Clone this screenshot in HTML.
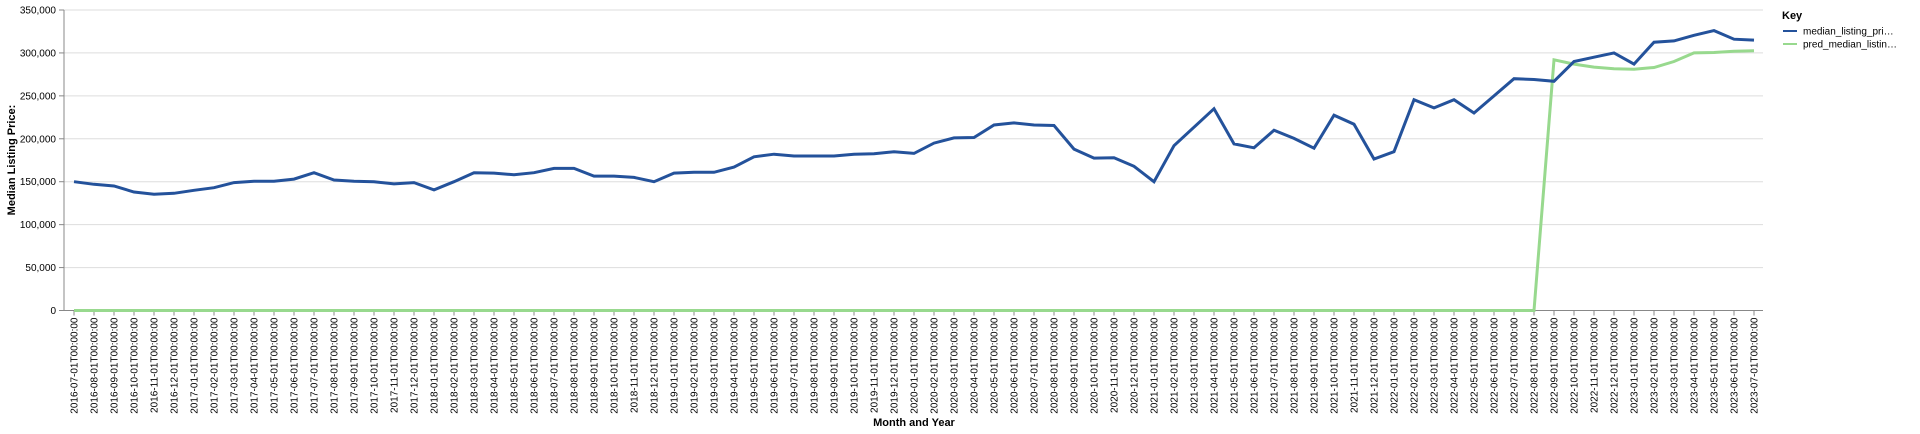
<!DOCTYPE html>
<html><head><meta charset="utf-8"><style>
html,body{margin:0;padding:0;background:#fff;width:1920px;height:434px;overflow:hidden}
svg text{font-family:"Liberation Sans",sans-serif}
</style></head><body>
<svg id="chart" width="1920" height="434" xmlns="http://www.w3.org/2000/svg">
<g id="grid"></g>
<g id="yaxis"></g>
<g id="xaxis"></g>
<g id="marks"></g>
<text transform="translate(15,160) rotate(-90)" text-anchor="middle" font-size="11" font-weight="bold" fill="#000">Median Listing Price:</text>
<text x="914" y="426" text-anchor="middle" font-size="11" font-weight="bold" fill="#000">Month and Year</text>
<g>
<text x="1782" y="19" font-size="11" font-weight="bold" fill="#000">Key</text>
<g>
<line x1="1783" y1="31" x2="1797" y2="31" stroke="#24529b" stroke-width="2"/>
<text x="1803" y="34.5" font-size="10" fill="#000">median_listing_pri…</text></g>
<g>
<line x1="1783" y1="44" x2="1797" y2="44" stroke="#98d98e" stroke-width="2"/>
<text x="1803" y="47.5" font-size="10" fill="#000">pred_median_listin…</text></g>
</g>
</svg>
<script>
const months = [];
for (let y = 2016; y <= 2023; y++) for (let m = 1; m <= 12; m++) {
  if ((y === 2016 && m < 7) || (y === 2023 && m > 7)) continue;
  months.push(y + "-" + String(m).padStart(2, "0") + "-01T00:00:00");
}
const medianValues = [150000,147000,145000,138000,135500,136500,140000,143000,149000,150500,150500,153000,
160500,152000,150500,150000,147500,149000,140500,150000,160500,160000,158000,160500,
165500,165500,156500,156500,155000,150000,160000,161000,161000,167000,179000,182000,
180000,180000,180000,182000,182500,185000,183000,195000,201000,201500,216000,218500,
216000,215500,188000,177500,178000,168000,150000,192000,213500,235000,194000,189500,
210000,200500,189000,227500,217000,176500,185000,245500,236000,245500,230000,250000,
270000,269000,267000,290000,295000,300000,287000,312500,314000,320500,326000,316000,315000];
const predValues = [0,0,0,0,0,0,0,0,0,0,0,0,0,0,0,0,0,0,0,0,0,0,0,0,0,0,0,0,0,0,0,0,0,0,0,0,
0,0,0,0,0,0,0,0,0,0,0,0,0,0,0,0,0,0,0,0,0,0,0,0,0,0,0,0,0,0,0,0,0,0,0,0,0,0,
292000,287000,283500,281500,281000,283000,290000,300000,300500,302000,302500];
const yTicks = [0,50000,100000,150000,200000,250000,300000,350000];

const NS = "http://www.w3.org/2000/svg";
const X0 = 74, STEP = (1754 - 74) / (months.length - 1);
const xs = i => X0 + i * STEP;
const Y0 = 310.5, Y1 = 10, YMAX = 350000;
const ys = v => Y0 - v / YMAX * (Y0 - Y1);
function el(t, a, p) { const e = document.createElementNS(NS, t); for (const k in a) e.setAttribute(k, a[k]); p.appendChild(e); return e; }
const grid = document.getElementById("grid"), ya = document.getElementById("yaxis"), xa = document.getElementById("xaxis"), mk = document.getElementById("marks");
yTicks.forEach(v => {
  const g = el("line", {x1: 64, x2: 1763, y1: ys(v), y2: ys(v), stroke: "#ddd", "stroke-width": 1}, grid);
  
  
  el("line", {x1: 59, x2: 64, y1: ys(v), y2: ys(v), stroke: "#888"}, ya);
  const t = el("text", {x: 56, y: ys(v) + 3.5, "text-anchor": "end", "font-size": 10, fill: "#000"}, ya);
  t.textContent = v.toLocaleString("en-US");
  
  
});
el("line", {x1: 64, x2: 64, y1: Y1, y2: Y0, stroke: "#888"}, ya);
el("line", {x1: 64, x2: 1763, y1: Y0, y2: Y0, stroke: "#888"}, xa);
months.forEach((m, i) => {
  el("line", {x1: xs(i), x2: xs(i), y1: Y0, y2: Y0 + 5, stroke: "#888"}, xa);
  const t = el("text", {transform: `translate(${xs(i) + 3.5},${Y0 + 7}) rotate(-90)`, "text-anchor": "end", "font-size": 10, fill: "#000"}, xa);
  t.textContent = m;
  
  
});
function line(vals, color, w, name) {
  const p = el("path", {d: vals.map((v, i) => (i ? "L" : "M") + xs(i).toFixed(1) + "," + ys(v).toFixed(1)).join(""), fill: "none", stroke: color, "stroke-width": w, "stroke-linejoin": "miter"}, mk);
  
  
}
line(predValues, "#98d98e", 3, "pred-median-listing-price-line");
line(medianValues, "#24529b", 3, "median-listing-price-line");
</script>
</body></html>
